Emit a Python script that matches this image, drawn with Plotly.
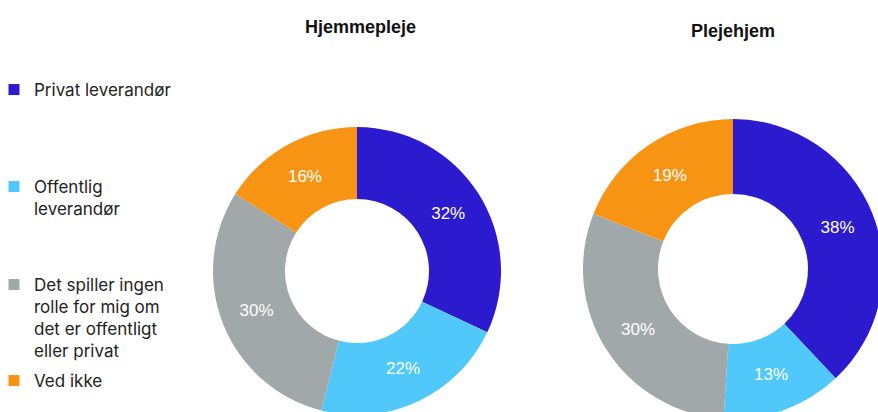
import plotly.graph_objects as go

categories = ["Privat leverandør", "Offentlig leverandør",
              "Det spiller ingen rolle for mig om det er offentligt eller privat", "Ved ikke"]
legend_labels = ["Privat leverandør", "Offentlig<br>leverandør",
                 "Det spiller ingen<br>rolle for mig om<br>det er offentligt<br>eller privat", "Ved ikke"]
hjemmepleje = [32, 22, 30, 16]
plejehjem = [38, 13, 30, 19]
titles = ["Hjemmepleje", "Plejehjem"]
colors = ["#2B1ACE", "#50C8F9", "#A1A8AA", "#F79414"]

W, H = 900, 430

def px_dom(x0, x1, top, bottom):
    return dict(x=[x0 / W, x1 / W], y=[1 - bottom / H, 1 - top / H])

fig = go.Figure()
pie_common = dict(
    hole=0.5, sort=False, direction="clockwise", rotation=0,
    marker=dict(colors=colors, line=dict(width=0)),
    texttemplate="%{value}%", textposition="inside",
    insidetextorientation="horizontal",
    textfont=dict(family="Liberation Sans", size=17, color="white"),
    showlegend=False, hoverinfo="label+percent",
)
fig.add_trace(go.Pie(labels=categories, values=hjemmepleje, name=titles[0],
                     domain=px_dom(213, 501, 127, 415), **pie_common))
fig.add_trace(go.Pie(labels=categories, values=plejehjem, name=titles[1],
                     domain=px_dom(583, 883, 119, 419), **pie_common))

legend_names = ["legend", "legend2", "legend3", "legend4"]
legend_tops = [90, 187, 285, 381]
for lab, col, lg in zip(legend_labels, colors, legend_names):
    fig.add_trace(go.Scatter(x=[None], y=[None], mode="markers", name=lab,
                             marker=dict(symbol="square", size=11, color=col),
                             legend=lg, showlegend=True, hoverinfo="skip"))

layout_legends = {}
for lg, top in zip(legend_names, legend_tops):
    layout_legends[lg] = dict(
        x=0, xanchor="left", xref="container",
        y=1 - (top - 18) / H, yanchor="top", yref="container",
        bgcolor="rgba(0,0,0,0)", borderwidth=0, valign="top",
        font=dict(family="Inter", size=17, color="#222222"),
        itemwidth=30, tracegroupgap=0, indentation=-6,
    )

fig.update_layout(
    width=W, height=H, margin=dict(l=0, r=0, t=0, b=0, autoexpand=False),
    paper_bgcolor="white", plot_bgcolor="white",
    xaxis=dict(visible=False), yaxis=dict(visible=False),
    annotations=[
        dict(text=titles[0], x=360 / W, y=1 - 27 / H, xref="paper", yref="paper",
             showarrow=False, xanchor="center", yanchor="middle",
             font=dict(family="Liberation Sans", size=18, color="#111111", weight="bold")),
        dict(text=titles[1], x=733 / W, y=1 - 31 / H, xref="paper", yref="paper",
             showarrow=False, xanchor="center", yanchor="middle",
             font=dict(family="Liberation Sans", size=18, color="#111111", weight="bold")),
    ],
    **layout_legends,
)

fig.write_html("out.html", config={"displayModeBar": False},
               post_script="document.body.style.margin='0';document.body.style.overflow='hidden';")
